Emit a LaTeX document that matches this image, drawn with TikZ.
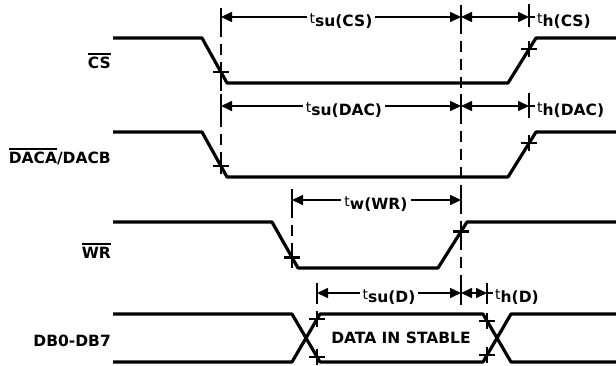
\documentclass[tikz,border=0pt]{standalone}
\usepackage{fontspec}
\setmainfont{DejaVu Sans}
\usepackage{graphicx}
\usetikzlibrary{arrows.meta}
\newcommand\ovl[1]{\setbox0\hbox{#1}\rlap{\rule[\dimexpr\ht0+2pt\relax]{\wd0}{1.7pt}}\box0}
\newcommand\tlab[1]{{\fontsize{14}{15}\selectfont\raisebox{3pt}{t}}{\fontsize{15.5}{17}\selectfont\bfseries #1}}
\begin{document}
\begin{tikzpicture}[x=1pt,y=-1pt,
  sig/.style={line width=3.2pt, line join=round},
  dsh/.style={line width=2.6pt, dash pattern=on 11pt off 7pt},
  tickl/.style={line width=2.6pt},
  crs/.style={line width=2.2pt},
  dim/.style={line width=1.6pt, {Triangle[length=11pt,width=10pt]}-{Triangle[length=11pt,width=10pt]}},
  lab/.style={font=\fontsize{15.5}{17}\selectfont\bfseries, anchor=base east, inner sep=0pt},
  tmid/.style={fill=white, inner xsep=3pt, inner ysep=0pt, anchor=base},
  tright/.style={inner sep=0pt, anchor=base west},
]
\useasboundingbox (0,0) rectangle (616,365);

% signal labels
\node[lab] (lcs) at (111,68) {\ovl{CS}};
\node[lab] (ldac) at (111,163) {\ovl{DACA}/DACB};
\node[lab] (lwr) at (111,258) {\ovl{WR}};
\node[lab] (ldb) at (111,346) {DB0-DB7};

% waveforms
\draw[sig] (113,38) -- (202,38) -- (227,83) -- (508,83) -- (536,38) -- (616,38);
\draw[sig] (113,132) -- (202,132) -- (227,177) -- (508,177) -- (536,132) -- (616,132);
\draw[sig] (113,222) -- (272,222) -- (298,268) -- (438,268) -- (467,222) -- (616,222);
\draw[sig] (113,314) -- (292,314) -- (320,362) -- (483,362) -- (511,314) -- (616,314);
\draw[sig] (113,362) -- (292,362) -- (320,314) -- (483,314) -- (511,362) -- (616,362);
\node[font=\fontsize{15.5}{17}\selectfont\bfseries, inner sep=0pt] (data) at (401,338) {DATA IN STABLE};

% vertical reference lines
\coordinate (v1t) at (221,8);  \coordinate (v1b) at (221,172);
\coordinate (v2t) at (461,5);  \coordinate (v2b) at (461,305);
\coordinate (vwt) at (292,189); \coordinate (vwb) at (292,268);
\draw[dsh] (v1t) -- (v1b);
\draw[dsh] (v2t) -- (v2b);
\draw[dsh] (vwt) -- (vwb);
\draw[tickl] (221,8) -- (221,27) (221,94) -- (221,118);
\draw[tickl] (461,5) -- (461,27) (461,94) -- (461,117) (461,189) -- (461,211) (461,283) -- (461,305);
\draw[tickl] (529,4) -- (529,27) (529,93) -- (529,118);
\draw[tickl] (292,189) -- (292,211);
\draw[tickl] (317,283) -- (317,304) (487,283) -- (487,304);

% crossing marks
\foreach \x/\y in {221/72.2, 529/49.3, 221/166.2, 529/143.3, 292/257.4, 461/231.5, 317/319.1, 317/356.9, 487/320.9, 487/355.1}
  \draw[crs] (\x-8,\y) -- (\x+8,\y) (\x,\y-8) -- (\x,\y+8);

% timing dimensions
\coordinate (a1) at (221,17); \coordinate (a2) at (461,17); \coordinate (a3) at (529,17);
\draw[dim] (a1) -- (a2);
\draw[dim] (a2) -- (a3);
\draw[line width=1.6pt] (a3) -- (535,17);
\node[tmid] (tsucs) at (341,26) {\tlab{su(CS)}};
\node[tright] (thcs) at (537,26) {\tlab{h(CS)}};

\coordinate (b1) at (221,106); \coordinate (b2) at (461,106); \coordinate (b3) at (529,106);
\draw[dim] (b1) -- (b2);
\draw[dim] (b2) -- (b3);
\draw[line width=1.6pt] (b3) -- (535,106);
\node[tmid] (tsudac) at (344,115) {\tlab{su(DAC)}};
\node[tright] (thdac) at (537,115) {\tlab{h(DAC)}};

\coordinate (c1) at (292,200); \coordinate (c2) at (461,200);
\draw[dim] (c1) -- (c2);
\node[tmid] (twwr) at (376,209) {\tlab{w(WR)}};

\coordinate (d1) at (317,293); \coordinate (d2) at (461,293); \coordinate (d3) at (487,293);
\draw[dim] (d1) -- (d2);
\draw[dim] (d2) -- (d3);
\draw[line width=1.6pt] (d3) -- (493,293);
\node[tmid] (tsud) at (389,302) {\tlab{su(D)}};
\node[tright] (thd) at (495,302) {\tlab{h(D)}};
\end{tikzpicture}
\end{document}
